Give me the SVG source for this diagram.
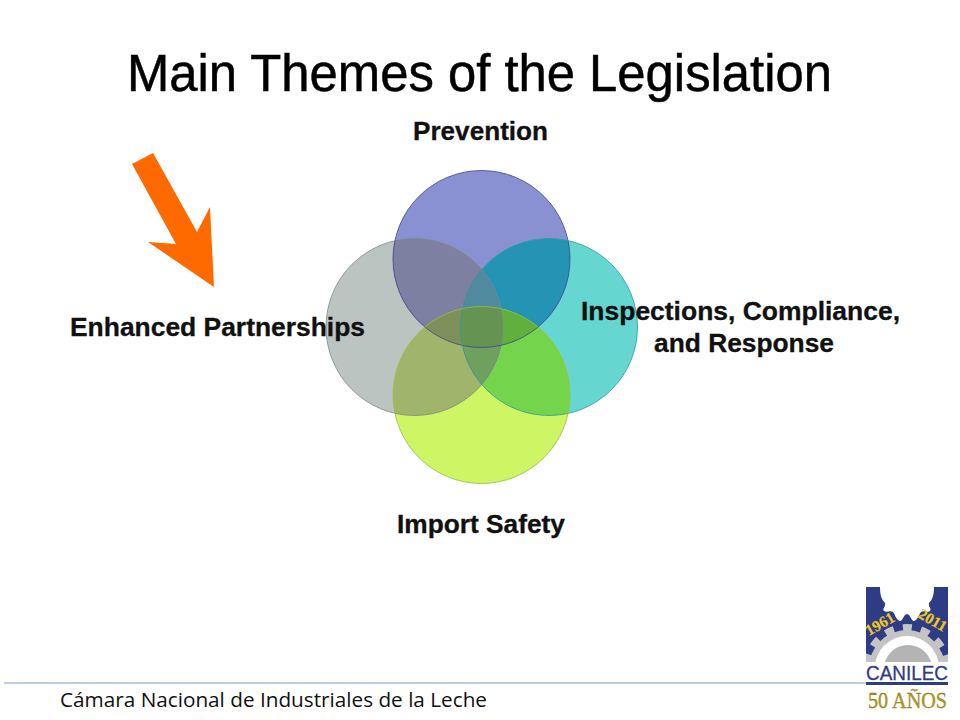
<svg xmlns="http://www.w3.org/2000/svg" width="960" height="720" viewBox="0 0 960 720">
<style>
.t{font-family:"Liberation Sans",Arial,sans-serif;fill:#000;stroke:#000;stroke-width:.5}
.l{font-family:"Liberation Sans",Arial,sans-serif;font-weight:700;font-size:25px;fill:#111;stroke:#111;stroke-width:.3}
.o{fill:none;stroke-width:1}
.y{font-family:"Liberation Serif",serif;font-weight:700;font-size:15.5px;fill:#f0c81e;stroke:#f0c81e;stroke-width:.2}
</style>
<defs>
<clipPath id="cB"><circle cx="481.5" cy="259" r="88.5"/></clipPath>
<clipPath id="cT"><circle cx="549" cy="327" r="88.5"/></clipPath>
<clipPath id="cG"><circle cx="414.5" cy="327" r="88.5"/></clipPath>
<clipPath id="cL"><circle cx="481.5" cy="395" r="88.5"/></clipPath>
<clipPath id="cR"><rect x="866" y="587" width="82" height="75"/></clipPath>
</defs>
<rect width="960" height="720" fill="#fff"/>
<text class="t" x="127" y="91" font-size="51" textLength="705" lengthAdjust="spacingAndGlyphs">Main Themes of the Legislation</text>
<g id="arrow"><polygon points="132,164 153,153 197,232 210,207 214,287 148,242 176,244" fill="#ff6a00"/></g>
<g id="venn">
<g id="circle-enhanced-partnerships"><circle cx="414.5" cy="327" r="88.5" fill="#bcc4c2"/></g>
<g id="circle-prevention"><circle cx="481.5" cy="259" r="88.5" fill="#8a91d3"/></g>
<g id="circle-inspections"><circle cx="549" cy="327" r="88.5" fill="#66d6d0"/></g>
<g id="circle-import-safety"><circle cx="481.5" cy="395" r="88.5" fill="#cdf564"/></g>
<g clip-path="url(#cB)"><circle cx="414.5" cy="327" r="88.5" fill="#7d80a0"/><circle cx="549" cy="327" r="88.5" fill="#2593b4"/></g>
<g clip-path="url(#cL)"><circle cx="414.5" cy="327" r="88.5" fill="#a0b46c"/><circle cx="549" cy="327" r="88.5" fill="#74d44c"/></g>
<g clip-path="url(#cB)"><g clip-path="url(#cL)"><circle cx="414.5" cy="327" r="88.5" fill="#7f8f5c"/><circle cx="549" cy="327" r="88.5" fill="#5fb03c"/></g></g>
<g clip-path="url(#cG)"><g clip-path="url(#cT)"><rect x="440" y="230" width="90" height="200" fill="#4f8a9e"/><circle cx="481.5" cy="395" r="88.5" fill="#6fa060"/><g clip-path="url(#cB)"><circle cx="481.5" cy="395" r="88.5" fill="#659352"/></g></g></g>
<circle class="o" cx="414.5" cy="327" r="88.5" stroke="#7c8a88" stroke-opacity=".8"/>
<circle class="o" cx="481.5" cy="259" r="88.5" stroke="#3c4590" stroke-opacity=".8"/>
<circle class="o" cx="549" cy="327" r="88.5" stroke="#2a9c98" stroke-opacity=".8"/>
<circle class="o" cx="481.5" cy="395" r="88.5" stroke="#98bc40" stroke-opacity=".8"/>
</g>
<text class="l" x="413" y="140" textLength="135" lengthAdjust="spacingAndGlyphs">Prevention</text>
<text class="l" x="70" y="336" textLength="295" lengthAdjust="spacingAndGlyphs">Enhanced Partnerships</text>
<text class="l" x="581" y="320" textLength="319" lengthAdjust="spacingAndGlyphs">Inspections, Compliance,</text>
<text class="l" x="654" y="352" textLength="180" lengthAdjust="spacingAndGlyphs">and Response</text>
<text class="l" x="397" y="533" textLength="168" lengthAdjust="spacingAndGlyphs">Import Safety</text>
<line x1="4" y1="683" x2="866" y2="683" stroke="#7f9cc4" stroke-width="1"/>
<text x="60" y="707" font-family="'Open Sans','Noto Sans',sans-serif" font-size="20" fill="#111" textLength="427" lengthAdjust="spacingAndGlyphs">Cámara Nacional de Industriales de la Leche</text>
<g id="logo">
<rect x="866" y="587" width="82" height="75" fill="#2e3c86"/>
<path d="M880,587 C880,596 882,600 885,603 C886,607 882,608 884,611 C887,613 890,610 893,612 C895,614 896,620 900,621 C903,621 903,615 907,614 C911,615 911,621 914,621 C918,620 919,614 921,612 C924,610 928,613 930,611 C932,608 928,607 929,603 C932,600 934,596 934,587Z" fill="#fff"/>
<g clip-path="url(#cR)">
<circle cx="907" cy="668" r="38" fill="#c4c4c4"/>
<circle cx="907" cy="668" r="40.500" fill="none" stroke="#c4c4c4" stroke-width="7" stroke-dasharray="9 9.18" stroke-dashoffset="-4.6"/>
<circle cx="907" cy="668" r="32" fill="#fff"/>
<circle cx="908" cy="669" r="24" fill="#b4b4b4"/>
</g>
<text class="y" transform="translate(869,636) rotate(-30)">1961</text>
<text class="y" transform="translate(917,617) rotate(30)">2011</text>
<text x="866" y="680" font-family="'Liberation Sans',sans-serif" font-size="21" fill="#2e3c86" stroke="#2e3c86" stroke-width=".3" textLength="82" lengthAdjust="spacingAndGlyphs">CANILEC</text>
<rect x="866" y="682" width="82" height="3" fill="#2e3c86"/>
<text x="868" y="708" font-family="'Liberation Serif',serif" font-size="23" fill="#b09a20" stroke="#7a6a1a" stroke-width=".3" textLength="79" lengthAdjust="spacingAndGlyphs">50 AÑOS</text>
</g>
</svg>
